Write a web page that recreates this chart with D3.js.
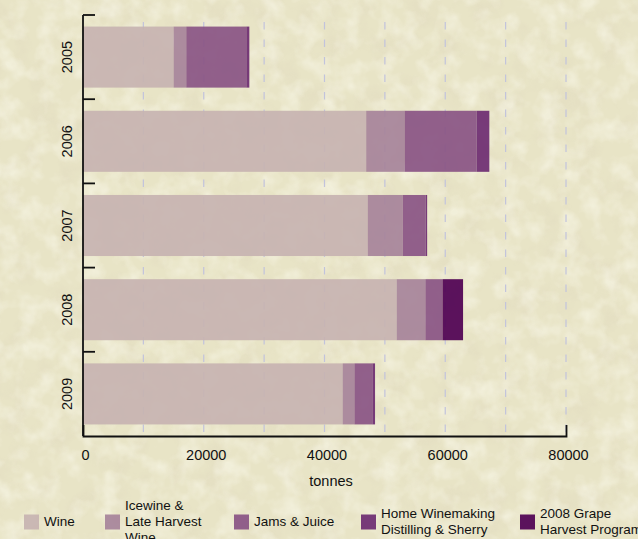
<!DOCTYPE html>
<html>
<head>
<meta charset="utf-8">
<script src="https://cdn.jsdelivr.net/npm/d3@7/dist/d3.min.js"></script>
<style>
  html, body { margin: 0; padding: 0; background: #e8e4c6; }
  svg { display: block; font-family: "Liberation Sans", Arial, Helvetica, sans-serif; }
</style>
</head>
<body>
<svg id="chart" width="638" height="539"></svg>
<script>
// Grape usage by category, tonnes
const years = ["2005", "2006", "2007", "2008", "2009"];
const wine = [15000, 46900, 47150, 51950, 43000];
const icewine = [2100, 6350, 5800, 4750, 1950];
const jamsJuice = [9950, 11950, 3800, 2850, 2980];
const homeWinemaking = [500, 2100, 250, 0, 440];
const grapeProgram = [0, 0, 0, 3400, 0];

const seriesKeys = ["wine", "icewine", "jams", "home", "grape"];
const seriesLabels = [
  "Wine",
  "Icewine &\nLate Harvest\nWine",
  "Jams & Juice",
  "Home Winemaking\nDistilling & Sherry",
  "2008 Grape\nHarvest Program"
];
const seriesColors = ["#c7b3b1", "#a6839a", "#895484", "#6c2b71", "#4e0052"];
const xTickValues = [0, 20000, 40000, 60000, 80000];
const gridValues = [10000, 20000, 30000, 40000, 50000, 60000, 70000, 80000];
const xTitle = "tonnes";

const table = years.map((y, i) => ({
  year: y,
  wine: wine[i],
  icewine: icewine[i],
  jams: jamsJuice[i],
  home: homeWinemaking[i],
  grape: grapeProgram[i]
}));

const W = 638, H = 539;
const svg = d3.select("#chart");

// parchment background: base tone plus soft light and dark mottling
const defs = svg.append("defs");
const fDark = defs.append("filter").attr("id", "mottleDark")
  .attr("x", 0).attr("y", 0).attr("width", "100%").attr("height", "100%");
fDark.append("feTurbulence").attr("type", "fractalNoise")
  .attr("baseFrequency", "0.035").attr("numOctaves", 4).attr("seed", 7);
fDark.append("feColorMatrix").attr("type", "matrix")
  .attr("values", "0 0 0 0 0.72  0 0 0 0 0.66  0 0 0 0 0.50  0 0 0 -2.6 1.4");
fDark.append("feComposite").attr("in2", "SourceGraphic").attr("operator", "in");

const fLight = defs.append("filter").attr("id", "mottleLight")
  .attr("x", 0).attr("y", 0).attr("width", "100%").attr("height", "100%");
fLight.append("feTurbulence").attr("type", "fractalNoise")
  .attr("baseFrequency", "0.05").attr("numOctaves", 3).attr("seed", 21);
fLight.append("feColorMatrix").attr("type", "matrix")
  .attr("values", "0 0 0 0 0.97  0 0 0 0 0.96  0 0 0 0 0.86  0 0 0 2.4 -1.0");
fLight.append("feComposite").attr("in2", "SourceGraphic").attr("operator", "in");

svg.append("rect").attr("width", W).attr("height", H).attr("fill", "#e8e4c6");
svg.append("rect").attr("width", W).attr("height", H).attr("fill", "#fff")
  .attr("filter", "url(#mottleDark)").attr("opacity", 0.3);
svg.append("rect").attr("width", W).attr("height", H).attr("fill", "#fff")
  .attr("filter", "url(#mottleLight)").attr("opacity", 0.5);

// scales
const x = d3.scaleLinear().domain([0, 80000]).range([83, 566]);
const y = d3.scaleBand().domain(years).range([15, 436])
  .paddingInner(0.275).paddingOuter(0.1375);

// dashed vertical grid
svg.append("g").selectAll("line").data(gridValues).join("line")
  .attr("x1", d => x(d)).attr("x2", d => x(d))
  .attr("y1", 22).attr("y2", 436)
  .attr("stroke", "#c2c3dc").attr("stroke-width", 1.2)
  .attr("stroke-dasharray", "7.5,10");

// stacked bars
const stacked = d3.stack().keys(seriesKeys)(table);
const color = d3.scaleOrdinal().domain(seriesKeys).range(seriesColors);

svg.append("g").selectAll("g").data(stacked).join("g")
  .attr("fill", d => color(d.key))
  .attr("fill-opacity", 0.92)
  .selectAll("rect").data(d => d).join("rect")
  .attr("x", d => x(d[0]))
  .attr("width", d => Math.max(0, x(d[1]) - x(d[0])))
  .attr("y", d => y(d.data.year))
  .attr("height", y.bandwidth());

// x axis: line with upturned end ticks, labels below
const xAxis = d3.axisBottom(x).tickValues(xTickValues)
  .tickSizeInner(0).tickSizeOuter(-11).tickPadding(14)
  .tickFormat(d3.format("d"));
const gx = svg.append("g").attr("transform", "translate(0,436)").call(xAxis);
gx.select(".domain").attr("stroke", "#111").attr("stroke-width", 1.8);
gx.selectAll(".tick text").attr("font-size", "14.5px").attr("fill", "#111")
  .attr("font-family", "Liberation Sans, Arial, sans-serif").attr("dx", 2);

svg.append("text").attr("x", 331).attr("y", 481)
  .attr("text-anchor", "middle").attr("dominant-baseline", "central")
  .attr("font-size", "14.5px").attr("fill", "#111").text(xTitle);

// y axis: line with inward ticks at band boundaries, rotated year labels
const gy = svg.append("g");
gy.append("line").attr("x1", x(0)).attr("x2", x(0))
  .attr("y1", y.range()[0]).attr("y2", y.range()[1])
  .attr("stroke", "#111").attr("stroke-width", 1.8);
gy.selectAll("line.bt").data(years).join("line").attr("class", "bt")
  .attr("x1", x(0)).attr("x2", x(0) + 12)
  .attr("y1", (d, i) => y.range()[0] + i * y.step())
  .attr("y2", (d, i) => y.range()[0] + i * y.step())
  .attr("stroke", "#111").attr("stroke-width", 1.8);
gy.selectAll("text").data(years).join("text")
  .attr("transform", d => `translate(67,${y(d) + y.bandwidth() / 2}) rotate(-90)`)
  .attr("text-anchor", "middle").attr("dominant-baseline", "central")
  .attr("font-size", "14.5px").attr("fill", "#111").text(d => d);

// legend along the bottom
const legendX = [24, 105, 234, 361, 520];
const swatch = 15, cy = 521.5, lineH = 16;
const legend = svg.append("g");
seriesLabels.forEach((lab, i) => {
  const lx = legendX[i];
  const g = legend.append("g");
  g.append("rect").attr("x", lx).attr("y", cy - swatch / 2 + 0.5)
    .attr("width", swatch).attr("height", swatch)
    .attr("fill", seriesColors[i]).attr("fill-opacity", 0.92);
  const lines = lab.split("\n");
  const t = g.append("text").attr("font-size", "13.5px").attr("fill", "#111");
  lines.forEach((ln, j) => {
    t.append("tspan").attr("x", lx + 20)
      .attr("y", cy + (j - (lines.length - 1) / 2) * lineH)
      .attr("dominant-baseline", "central").text(ln);
  });
});
</script>
</body>
</html>
